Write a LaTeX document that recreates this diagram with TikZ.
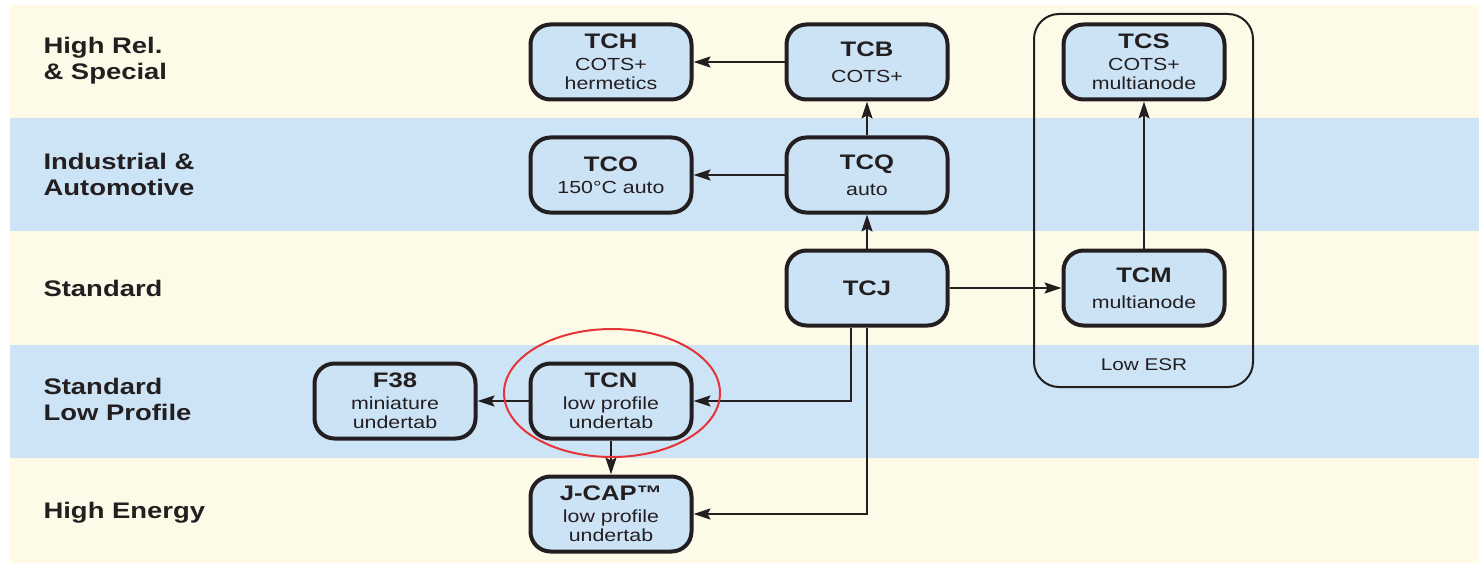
\documentclass[tikz,border=0pt]{standalone}
\usepackage{fontspec}
\setmainfont{Liberation Sans}[FakeStretch=1.22]
\usetikzlibrary{arrows.meta}
\definecolor{bandcream}{RGB}{254,250,232}
\definecolor{bandblue}{RGB}{205,228,246}
\definecolor{boxblue}{RGB}{204,227,246}
\definecolor{inkdark}{RGB}{35,31,32}
\definecolor{ringred}{RGB}{228,52,56}
\tikzset{
  family/.style={draw=inkdark,line width=4pt,fill=boxblue,rounded corners=20pt,
    minimum width=161pt,minimum height=75pt,align=center,
    font=\fontsize{17.5}{19}\selectfont,text=inkdark},
  tier/.style={anchor=west,align=left,font=\fontsize{22.5}{26}\selectfont\bfseries,text=inkdark},
  link/.style={draw=inkdark,line width=2pt,-{Stealth[length=17pt,width=11pt,inset=3pt]}}
}
\newcommand{\famname}[1]{{\fontsize{21}{25}\selectfont\bfseries #1}}
\begin{document}
\begin{tikzpicture}[x=1pt,y=-1pt]
\useasboundingbox (0,0) rectangle (1482,564);
% bands
\fill[bandcream] (10,5) rectangle (1479,118);
\fill[bandblue] (10,118) rectangle (1479,231);
\fill[bandcream] (10,231) rectangle (1479,345);
\fill[bandblue] (10,345) rectangle (1479,458);
\fill[bandcream] (10,458) rectangle (1479,563);
% tiers
\node[tier] (rel) at (40,61) {High Rel.\\\& Special};
\node[tier] (ind) at (40,174) {Industrial \&\\Automotive};
\node[tier] (std) at (40,288) {Standard};
\node[tier] (low) at (40,399) {Standard\\Low Profile};
\node[tier] (nrg) at (40,513) {High Energy};
% low esr group
\draw[draw=inkdark,line width=2pt,rounded corners=25pt] (1034,14) rectangle (1253,387);
\node[font=\fontsize{17}{19}\selectfont,text=inkdark] (esr) at (1144,365) {Low ESR};
% families
\node[family] (tch) at (611,62) {\famname{TCH}\\[3pt]COTS+\\hermetics};
\node[family] (tcb) at (867,62) {\famname{TCB}\\[7pt]COTS+};
\node[family] (tco) at (611,175) {\famname{TCO}\\[3pt]150°C auto};
\node[family] (tcq) at (867,175) {\famname{TCQ}\\[7pt]auto};
\node[family] (tcj) at (867,288) {\famname{TCJ}};
\node[family] (tcn) at (611,401) {\famname{TCN}\\[3pt]low profile\\undertab};
\node[family] (f38) at (395,401) {\famname{F38}\\[3pt]miniature\\undertab};
\node[family] (jcap) at (611,514) {\famname{J-CAP™}\\[3pt]low profile\\undertab};
\node[family] (tcm) at (1144,288) {\famname{TCM}\\[7pt]multianode};
\node[family] (tcs) at (1144,62) {\famname{TCS}\\[3pt]COTS+\\multianode};
% links
\draw[link] (tcb) -- (tch);
\draw[link] (tcq) -- (tco);
\draw[link] (tcq) -- (tcb);
\draw[link] (tcj) -- (tcq);
\draw[link] (tcj) -- (tcm);
\draw[link] (tcm) -- (tcs);
\draw[link] ([xshift=-16pt]tcj.south) |- (tcn.east);
\draw[link] (tcj.south) |- (jcap.east);
\draw[link] (tcn) -- (jcap);
\draw[link] (tcn) -- (f38);
% highlight
\draw[ringred,line width=2pt] (612,393) ellipse (108 and 64);
\end{tikzpicture}
\end{document}
